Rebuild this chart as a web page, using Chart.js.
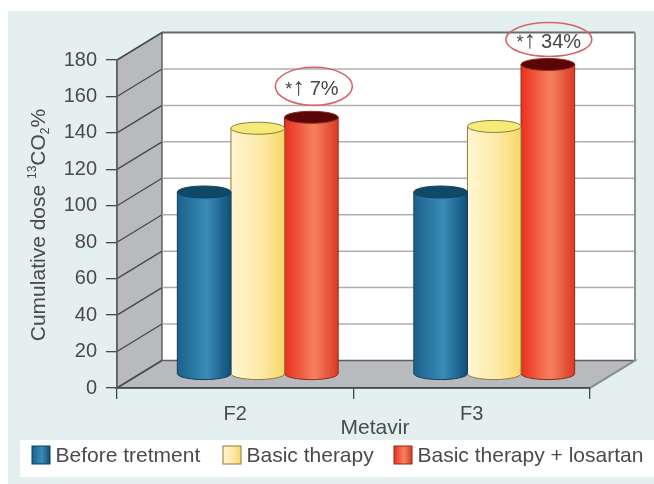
<!DOCTYPE html>
<html>
<head>
<meta charset="utf-8">
<style>
html,body{margin:0;padding:0;background:#fff}
#wrap{width:654px;height:484px;position:relative}
</style>
<script src="https://cdn.jsdelivr.net/npm/chart.js@4/dist/chart.umd.min.js"></script>
</head>
<body>
<div id="wrap"><canvas id="c" width="654" height="484"></canvas></div>
<script>
const categories = ["F2", "F3"];
const beforeTreatment = [100, 100];
const basicTherapy = [135, 136];
const basicLosartan = [141, 170];
const yTicks = [0, 20, 40, 60, 80, 100, 120, 140, 160, 180];
const badges = ["7%", "34%"];
const seriesNames = ["Before tretment", "Basic therapy", "Basic therapy + losartan"];

const FONT = '"Liberation Sans", Arial, sans-serif';
const TEXT = '#4a4a4c';
const DEPTH_X = 45, DEPTH_Y = 27.5;

const palettes = [
  {stops: ['#1b628c', '#3a8bb8', '#0f4f7a'], lid: '#0e4a68', edge: '#0f3f5c'},
  {stops: ['#fff6d2', '#fdeaa8', '#f8d768'], lid: '#f6ea78', edge: '#8c7a3a'},
  {stops: ['#ec2f1e', '#f5815f', '#dc3a24'], lid: '#5a0508', edge: '#8a2a1c'}
];

function sideGradient(ctx, x0, x1, p) {
  const g = ctx.createLinearGradient(x0, 0, x1, 0);
  g.addColorStop(0, p.stops[0]);
  g.addColorStop(0.55, p.stops[1]);
  g.addColorStop(1, p.stops[2]);
  return g;
}

// Back wall, side wall and floor of the 3D box, tied to the value scale.
const boxPlugin = {
  id: 'box',
  beforeDraw(chart) {
    const {ctx, chartArea: a, scales: {y}} = chart;
    ctx.save();
    ctx.fillStyle = '#e3f0ef';
    ctx.fillRect(8, 11, 646, 473);

    const top = y.getPixelForValue(180), bot = y.getPixelForValue(0);
    ctx.fillStyle = '#ffffff';
    ctx.fillRect(a.left + DEPTH_X, top - DEPTH_Y, a.right - a.left, bot - top);

    ctx.fillStyle = '#b9babe';
    ctx.strokeStyle = '#5d6064';
    ctx.lineWidth = 1.5;
    ctx.beginPath();
    ctx.moveTo(a.left, bot);
    ctx.lineTo(a.left, top);
    ctx.lineTo(a.left + DEPTH_X, top - DEPTH_Y);
    ctx.lineTo(a.left + DEPTH_X, bot - DEPTH_Y);
    ctx.closePath();
    ctx.fill();
    ctx.stroke();

    ctx.beginPath();
    ctx.moveTo(a.left, bot);
    ctx.lineTo(a.left + DEPTH_X, bot - DEPTH_Y);
    ctx.lineTo(a.right + DEPTH_X, bot - DEPTH_Y);
    ctx.lineTo(a.right, bot);
    ctx.closePath();
    ctx.fill();
    ctx.stroke();

    yTicks.forEach(v => {
      const py = y.getPixelForValue(v);
      if (v > 0) {
        ctx.strokeStyle = v === 180 ? '#6a6c6c' : '#adafaf';
        ctx.lineWidth = v === 180 ? 2 : 1.5;
        ctx.beginPath();
        ctx.moveTo(a.left + DEPTH_X, py - DEPTH_Y);
        ctx.lineTo(a.right + DEPTH_X, py - DEPTH_Y);
        ctx.stroke();
      }
      ctx.strokeStyle = '#45484a';
      ctx.lineWidth = 1.3;
      ctx.beginPath();
      ctx.moveTo(a.left, py);
      ctx.lineTo(a.left + DEPTH_X, py - DEPTH_Y);
      ctx.stroke();
    });

    // right edge of the back wall
    ctx.strokeStyle = '#8d9494';
    ctx.lineWidth = 2;
    ctx.beginPath();
    ctx.moveTo(a.right + DEPTH_X, top - DEPTH_Y);
    ctx.lineTo(a.right + DEPTH_X, bot - DEPTH_Y);
    ctx.lineTo(a.right, bot);
    ctx.stroke();
    ctx.restore();
  }
};

// Each bar element is painted as a cylinder standing mid-way through the box depth.
const cylinderPlugin = {
  id: 'cylinder',
  beforeDatasetDraw(chart, args) {
    const ctx = chart.ctx, p = palettes[args.index], ry = 6;
    args.meta.data.forEach(el => {
      const cx = el.x + DEPTH_X / 2, rx = el.width / 2;
      const topY = el.y - DEPTH_Y / 2, baseY = el.base - DEPTH_Y / 2;
      ctx.save();
      ctx.beginPath();
      ctx.moveTo(cx - rx, topY);
      ctx.lineTo(cx - rx, baseY);
      ctx.ellipse(cx, baseY, rx, ry, 0, Math.PI, 0, true);
      ctx.lineTo(cx + rx, topY);
      ctx.closePath();
      ctx.fillStyle = sideGradient(ctx, cx - rx, cx + rx, p);
      ctx.fill();
      ctx.strokeStyle = p.edge;
      ctx.lineWidth = 1;
      ctx.stroke();
      ctx.beginPath();
      ctx.ellipse(cx, topY, rx, ry, 0, 0, Math.PI * 2);
      ctx.fillStyle = p.lid;
      ctx.fill();
      ctx.stroke();
      ctx.restore();
    });
    return false;
  }
};

// Percentage call-outs, axis captions and the legend strip.
const overlayPlugin = {
  id: 'overlay',
  afterDraw(chart) {
    const {ctx} = chart;
    ctx.save();
    ctx.textBaseline = 'alphabetic';

    const red = chart.getDatasetMeta(2).data;
    const lift = [31, 25], nudge = [2.5, 1], radii = [[38.5, 19], [43, 17]], textShift = [-2, 0];
    red.forEach((el, i) => {
      const cx = el.x + DEPTH_X / 2 + nudge[i];
      const cy = el.y - DEPTH_Y / 2 - lift[i];
      ctx.beginPath();
      ctx.ellipse(cx, cy, radii[i][0], radii[i][1], 0, 0, Math.PI * 2);
      ctx.strokeStyle = '#d8626c';
      ctx.lineWidth = 1.6;
      ctx.stroke();

      // asterisk, arrow and percentage are set as one centred run
      const runs = [['*', 18, 0], ['↑', 25, 0], [badges[i], 20, 5]];
      let total = 0;
      runs.forEach(r => { ctx.font = r[1] + 'px ' + FONT; total += ctx.measureText(r[0]).width + r[2]; });
      let x = cx + textShift[i] - total / 2;
      ctx.fillStyle = '#454548';
      ctx.textAlign = 'left';
      runs.forEach(r => {
        ctx.font = r[1] + 'px ' + FONT;
        x += r[2];
        ctx.fillText(r[0], x, cy + 9);
        x += ctx.measureText(r[0]).width;
      });
    });

    ctx.fillStyle = TEXT;
    ctx.textAlign = 'center';
    ctx.font = '21px ' + FONT;
    ctx.fillText('Metavir', 375, 434);

    // Rotated value-axis caption, with its superscript and subscript runs
    ctx.save();
    ctx.translate(45, 225);
    ctx.rotate(-Math.PI / 2);
    ctx.textAlign = 'left';
    const runs = [
      ['Cumulative dose ', 21, 0],
      ['13', 12, -9],
      ['CO', 21, 0],
      ['2', 12, 4],
      ['%', 21, 0]
    ];
    let total = 0;
    runs.forEach(r => { ctx.font = r[1] + 'px ' + FONT; total += ctx.measureText(r[0]).width; });
    let x = -total / 2;
    runs.forEach(r => {
      ctx.font = r[1] + 'px ' + FONT;
      ctx.fillText(r[0], x, r[2]);
      x += ctx.measureText(r[0]).width;
    });
    ctx.restore();

    // Legend strip
    ctx.fillStyle = '#ffffff';
    ctx.fillRect(20, 440, 634, 37);
    const swatchX = [32, 223, 394];
    ctx.font = '21px ' + FONT;
    ctx.textAlign = 'left';
    seriesNames.forEach((name, i) => {
      const p = palettes[i], sx = swatchX[i];
      ctx.fillStyle = sideGradient(ctx, sx, sx + 18, p);
      ctx.fillRect(sx, 446, 18, 18);
      ctx.strokeStyle = p.edge;
      ctx.lineWidth = 1;
      ctx.strokeRect(sx, 446, 18, 18);
      ctx.fillStyle = TEXT;
      ctx.fillText(name, sx + 23.5, 462);
    });
    ctx.restore();
  }
};

new Chart(document.getElementById('c'), {
  type: 'bar',
  data: {
    labels: categories,
    datasets: [
      {label: seriesNames[0], data: beforeTreatment, backgroundColor: palettes[0].stops[1]},
      {label: seriesNames[1], data: basicTherapy, backgroundColor: palettes[1].stops[1]},
      {label: seriesNames[2], data: basicLosartan, backgroundColor: palettes[2].stops[1]}
    ]
  },
  plugins: [boxPlugin, cylinderPlugin, overlayPlugin],
  options: {
    responsive: false,
    animation: false,
    events: [],
    layout: {padding: {left: 0, right: 64, top: 60, bottom: 0}},
    datasets: {bar: {categoryPercentage: 0.68, barPercentage: 1}},
    plugins: {legend: {display: false}, tooltip: {enabled: false}},
    scales: {
      x: {
        afterFit(s) { s.height = 96; },
        grid: {drawOnChartArea: false, tickLength: 11, color: '#45484a', lineWidth: 1.3},
        border: {color: '#45484a', width: 1.5},
        ticks: {color: TEXT, font: {family: FONT, size: 20}, padding: 3, maxRotation: 0}
      },
      y: {
        min: 0, max: 180,
        afterFit(s) { s.width = 117; },
        afterBuildTicks(s) { s.ticks = yTicks.map(v => ({value: v})); },
        grid: {drawOnChartArea: false, tickLength: 11, color: '#45484a', lineWidth: 1.3},
        border: {color: '#5d6064', width: 1.5},
        ticks: {color: TEXT, font: {family: FONT, size: 20}, padding: 9}
      }
    }
  }
});
</script>
</body>
</html>
